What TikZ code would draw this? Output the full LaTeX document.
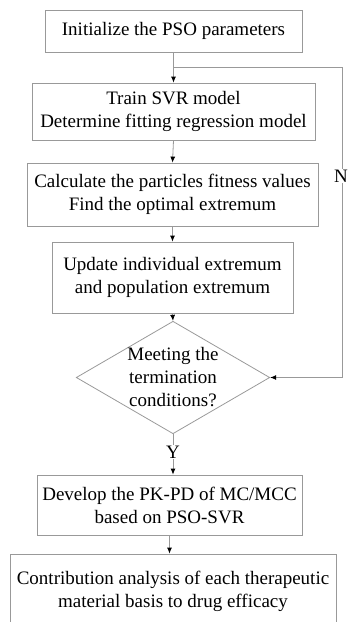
\documentclass[tikz,border=0pt]{standalone}
\usepackage{fontspec}
\setmainfont{Liberation Serif}
\usetikzlibrary{arrows.meta,shapes.geometric}

\tikzset{
    stepbox/.style={draw=gray!80,line width=0.8pt,rectangle,align=center,
        inner sep=0pt,font=\fontsize{19}{23}\selectfont},
    decide/.style={draw=gray!80,line width=0.8pt,diamond,aspect=1.72,align=center,
        inner sep=0pt,font=\fontsize{19}{23}\selectfont},
    flow/.style={draw=gray!80,line width=0.8pt,-{Latex[length=6pt,width=5pt,color=black]}}
}

\begin{document}
\begin{tikzpicture}[x=1pt,y=-1pt]
\useasboundingbox (0,0) rectangle (348,622);
\clip (0,0) rectangle (348,622);

% Boxes
\node[stepbox,minimum width=257pt,minimum height=42pt] (init) at (173.5,31) {Initialize the PSO parameters};
\node[stepbox,minimum width=283pt,minimum height=57pt] (train) at (173.5,111.5) {Train SVR model\\Determine fitting regression model};
\node[stepbox,minimum width=291pt,minimum height=63pt] (fit) at (172.5,194.5) {Calculate the particles fitness values\\Find the optimal extremum};
\node[stepbox,minimum width=241pt,minimum height=71pt] (upd) at (172.5,277.5) {Update individual extremum\\and population extremum};
\node[decide,minimum width=170pt,minimum height=99pt] (meet) at (173,377.5) {Meeting the\\termination\\conditions?};
\node[stepbox,minimum width=265pt,minimum height=60pt] (pkpd) at (169.5,505) {Develop the PK-PD of MC/MCC\\based on PSO-SVR};
\node[stepbox,minimum width=326pt,minimum height=74pt] (contr) at (173,591) {Contribution analysis of each therapeutic\\material basis to drug efficacy};

% Loop
\coordinate (join) at (init.south |- 0,67);
\coordinate (rtop) at (342,67);
\coordinate (rbot) at (342,0 |- meet.east);
\draw[flow] (join) -- (rtop) -- (rbot) -- (meet.east);
\node[fill=white,inner sep=0.5pt,font=\fontsize{19}{23}\selectfont] (no) at (341,176) {N};

% Arrows
\draw[flow] (init.south) -- (train.north);
\draw[flow] (train.south) -- (fit.north);
\draw[flow] (fit.south) -- (upd.north);
\draw[flow] (upd.south) -- (meet.north);
\draw[flow] (meet.south) -- (meet.south |- pkpd.north);
\node[fill=white,inner sep=1pt,font=\fontsize{19}{23}\selectfont] (yes) at (173,452) {Y};
\draw[flow] (pkpd.south) -- (pkpd.south |- contr.north);
\end{tikzpicture}
\end{document}
